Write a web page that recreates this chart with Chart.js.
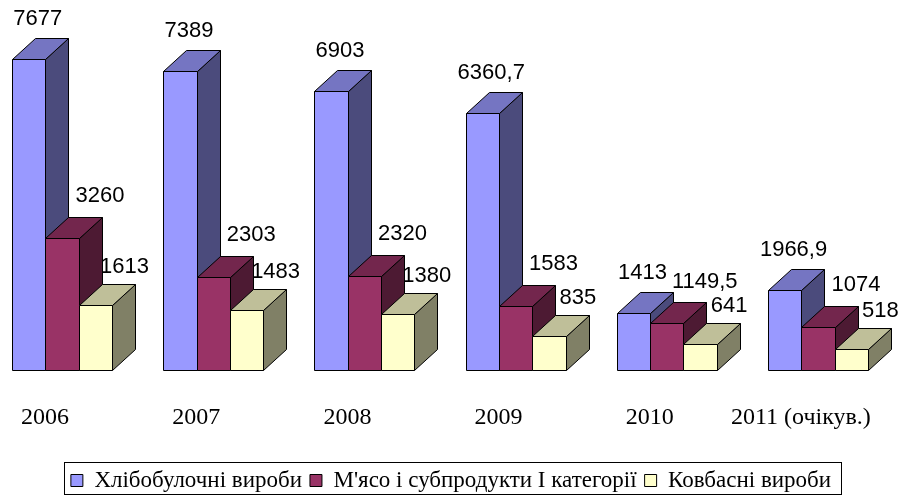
<!DOCTYPE html>
<html><head><meta charset="utf-8">
<script src="https://cdn.jsdelivr.net/npm/chart.js@4/dist/chart.umd.min.js"></script>
<style>html,body{margin:0;padding:0;background:#fff}#wrap{width:902px;height:495px;position:relative}</style>
</head><body><div id="wrap"><canvas id="c"></canvas></div>
<script>
const categories = ['2006', '2007', '2008', '2009', '2010', '2011 (очікув.)'];
const seriesNames = ['Хлібобулочні вироби', "М'ясо і субпродукти І категорії", 'Ковбасні вироби'];
const bread = [7677, 7389, 6903, 6360.7, 1413, 1966.9];
const meat = [3260, 2303, 2320, 1583, 1149.5, 1074];
const sausage = [1613, 1483, 1380, 835, 641, 518];

const faceColors = [
  {front: '#9999FF', top: '#7575C2', side: '#4B4B7C'},
  {front: '#993366', top: '#73264D', side: '#4D1A33'},
  {front: '#FFFFCC', top: '#BFBF99', side: '#808066'}
];
const labelOffsets = [{dx: 9, dy: -40}, {dx: 38, dy: -42}, {dx: 29, dy: -38}];
const DX = 23, DY = 21;
const PLOT = {left: -13.5, right: 893.5, bottom: 370, top: 5.8};
const LEGEND_SHIFT = 9;

function poly(ctx, pts, fill) {
  ctx.beginPath();
  ctx.moveTo(pts[0][0], pts[0][1]);
  for (let k = 1; k < pts.length; k++) ctx.lineTo(pts[k][0], pts[k][1]);
  ctx.closePath();
  ctx.fillStyle = fill;
  ctx.fill();
  ctx.stroke();
}

const bars3d = {
  id: 'bars3d',
  afterLayout(chart) {
    const x = chart.scales.x, y = chart.scales.y;
    x.left = PLOT.left; x.right = PLOT.right; x.width = PLOT.right - PLOT.left; x.top = PLOT.bottom;
    x.configure();
    y.top = PLOT.top; y.bottom = PLOT.bottom; y.height = PLOT.bottom - PLOT.top;
    y.configure();
    if (chart.legend) { chart.legend.top += LEGEND_SHIFT; chart.legend.bottom += LEGEND_SHIFT; }
  },
  beforeDatasetsDraw(chart) {
    const ctx = chart.ctx;
    const metas = chart.data.datasets.map((d, i) => chart.getDatasetMeta(i));
    ctx.save();
    ctx.font = '22px "Liberation Sans", Arial, sans-serif';
    ctx.fillStyle = '#000';
    ctx.textAlign = 'center';
    ctx.textBaseline = 'middle';
    metas.forEach((m, i) => m.data.forEach((el, j) => {
      const v = chart.data.datasets[i].data[j];
      const o = labelOffsets[i];
      ctx.fillText(String(v).replace('.', ','), el.x + o.dx, el.y + o.dy);
    }));
    ctx.lineWidth = 1;
    ctx.strokeStyle = '#000';
    for (let j = 0; j < categories.length; j++) {
      for (let i = 0; i < metas.length; i++) {
        const el = metas[i].data[j];
        const L = Math.round(el.x - el.width / 2) + 0.5;
        const R = Math.round(el.x + el.width / 2) + 0.5;
        const T = Math.round(el.y) + 0.5;
        const B = Math.round(el.base) + 0.5;
        const c = faceColors[i];
        poly(ctx, [[R, T], [R + DX, T - DY], [R + DX, B - DY], [R, B]], c.side);
        poly(ctx, [[L, T], [L + DX, T - DY], [R + DX, T - DY], [R, T]], c.top);
        poly(ctx, [[L, T], [R, T], [R, B], [L, B]], c.front);
      }
    }
    ctx.restore();
    return false;
  },
  afterDraw(chart) {
    const boxes = chart.legend && chart.legend.legendHitBoxes;
    if (!boxes || !boxes.length) return;
    let l = Infinity, r = -Infinity, t = Infinity, b = -Infinity;
    boxes.forEach(h => { l = Math.min(l, h.left); r = Math.max(r, h.left + h.width); t = Math.min(t, h.top); b = Math.max(b, h.top + h.height); });
    const cy = (t + b) / 2;
    const ctx = chart.ctx;
    ctx.save();
    ctx.strokeStyle = '#000';
    ctx.lineWidth = 1;
    const L = Math.round(l - 7) + 0.5, R = Math.round(r + 10) + 0.5;
    const T = Math.round(cy - 19) + 0.5, B = Math.min(Math.round(cy + 17), chart.height - 1) + 0.5;
    ctx.strokeRect(L, T, R - L, B - T);
    ctx.restore();
  }
};

const mk = (label, data, i) => ({
  label, data,
  backgroundColor: faceColors[i].front,
  borderColor: '#000',
  borderWidth: 1,
  categoryPercentage: 0.662,
  barPercentage: 1.0
});

new Chart(document.getElementById('c'), {
  type: 'bar',
  data: {
    labels: categories,
    datasets: [mk(seriesNames[0], bread, 0), mk(seriesNames[1], meat, 1), mk(seriesNames[2], sausage, 2)]
  },
  options: {
    responsive: true,
    maintainAspectRatio: false,
    animation: false,
    layout: {padding: {top: 6, left: 0, right: 0, bottom: 2}},
    plugins: {
      legend: {
        position: 'bottom',
        labels: {
          boxWidth: 12, boxHeight: 12, padding: 8, color: '#000',
          font: {family: '"Liberation Serif", "Times New Roman", serif', size: 23}
        }
      },
      tooltip: {enabled: false}
    },
    scales: {
      x: {
        grid: {display: false, drawTicks: false},
        border: {display: false},
        ticks: {
          color: '#000', labelOffset: -17, padding: 33, maxRotation: 0, autoSkip: false,
          font: {family: '"Liberation Serif", "Times New Roman", serif', size: 24}
        }
      },
      y: {display: false, min: 0, max: 9000}
    }
  },
  plugins: [bars3d]
});
</script>
</body></html>
